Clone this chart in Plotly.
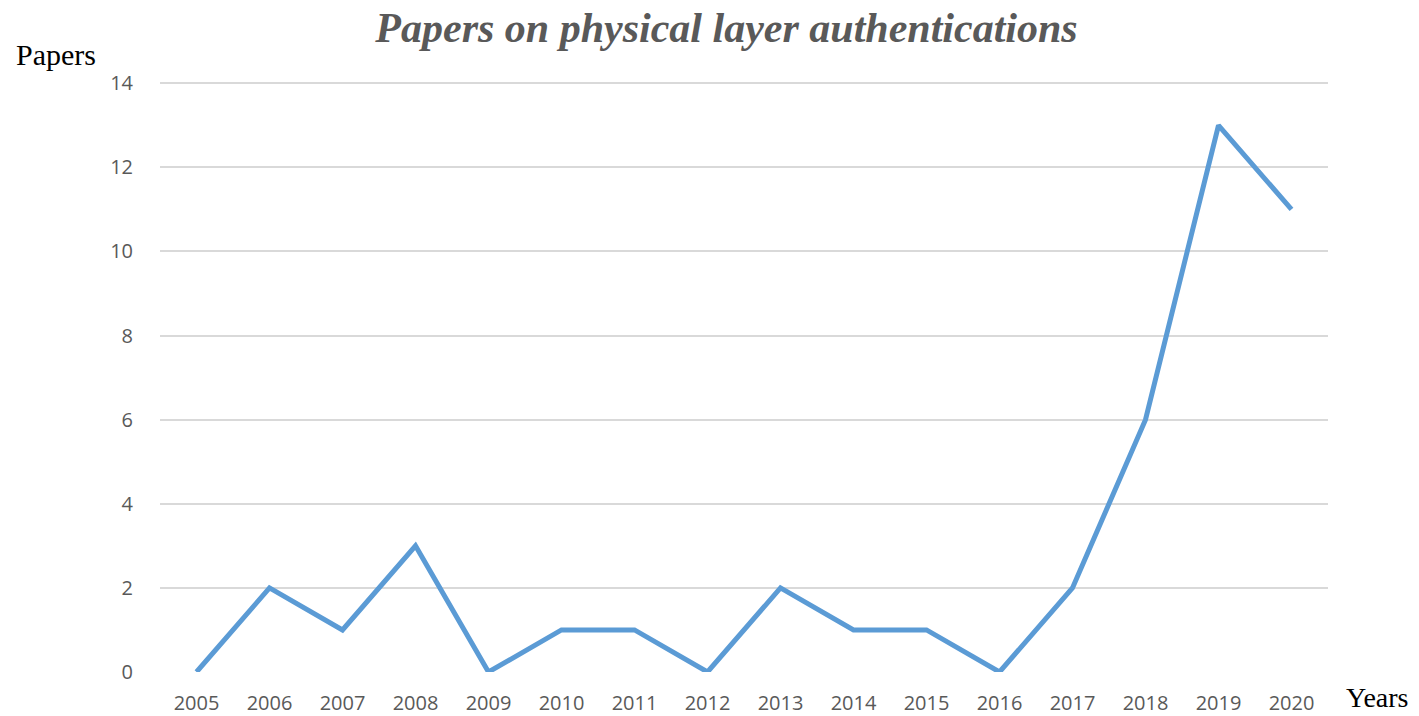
import plotly.graph_objects as go

years = ["2005", "2006", "2007", "2008", "2009", "2010", "2011", "2012",
         "2013", "2014", "2015", "2016", "2017", "2018", "2019", "2020"]
papers = [0, 2, 1, 3, 0, 1, 1, 0, 2, 1, 1, 0, 2, 6, 13, 11]
y_ticks = [0, 2, 4, 6, 8, 10, 12, 14]

fig = go.Figure()
fig.add_trace(go.Scatter(
    x=years, y=papers, mode="lines",
    line=dict(color="#5B9BD5", width=5),
    hoverinfo="x+y",
))

fig.update_layout(
    width=1419, height=716,
    margin=dict(l=160, r=91, t=82, b=44, autoexpand=False),
    paper_bgcolor="white", plot_bgcolor="white",
    showlegend=False,
    title=dict(
        text="<b><i>Papers on physical layer authentications</i></b>",
        x=0.512, xanchor="center", y=0.962, yanchor="middle",
        font=dict(family="Liberation Serif", size=42, color="#595959"),
    ),
    xaxis=dict(
        type="category", range=[-0.5, 15.5], automargin=False,
        showgrid=False, zeroline=False, showline=False,
        ticks="outside", ticklen=13, tickcolor="rgba(0,0,0,0)",
        tickfont=dict(family="Open Sans", size=20, color="#595959"),
    ),
    yaxis=dict(
        range=[0, 14.03], tickvals=y_ticks, automargin=False,
        showgrid=True, gridcolor="#D9D9D9", gridwidth=1.5,
        zeroline=False, showline=False,
        ticks="outside", ticklen=22, tickcolor="rgba(0,0,0,0)",
        tickfont=dict(family="Open Sans", size=20, color="#595959"),
    ),
    annotations=[
        dict(text="Papers", xref="paper", yref="paper", x=-0.125, y=1.047,
             xanchor="left", yanchor="middle", showarrow=False,
             font=dict(family="Liberation Serif", size=30, color="black")),
        dict(text="Years", xref="paper", yref="paper", x=1.071, y=-0.044,
             xanchor="right", yanchor="middle", showarrow=False,
             font=dict(family="Liberation Serif", size=28, color="black")),
    ],
)

fig.write_html("out.html")
